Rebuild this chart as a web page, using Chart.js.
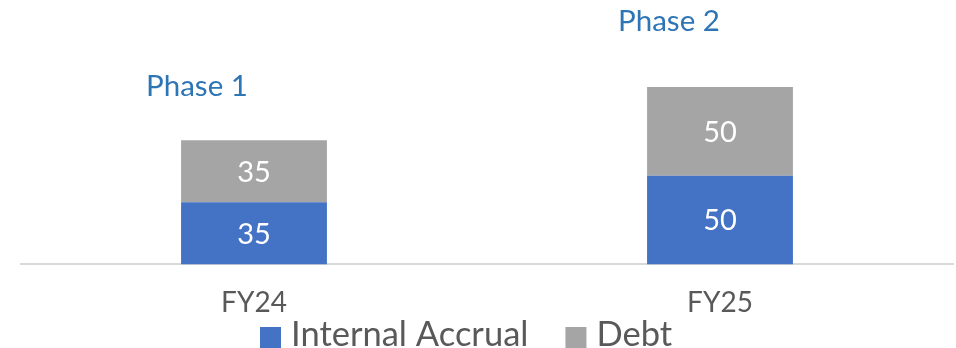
<!DOCTYPE html>
<html>
<head>
<meta charset="utf-8">
<script src="https://cdn.jsdelivr.net/npm/chart.js@4.4.1/dist/chart.umd.min.js"></script>
<style>
  html, body { margin: 0; padding: 0; background: #fff; overflow: hidden; }
  #wrap { width: 956px; height: 348px; }
</style>
</head>
<body>
<div id="wrap"><canvas id="fundingChart"></canvas></div>
<script>
'use strict';

const categories = ['FY24', 'FY25'];
const internalAccrual = [35, 50];
const debt = [35, 50];
const phaseLabels = ['Phase 1', 'Phase 2'];
const phaseLabelLevels = [100, 137]; // caption heights on the value axis

const FONT = 'Lato, "Open Sans", sans-serif';

// white value labels in the middle of every segment
const segmentLabels = {
    id: 'segmentLabels',
    afterDatasetsDraw(chart) {
        const ctx = chart.ctx;
        ctx.save();
        ctx.fillStyle = '#ffffff';
        ctx.font = '29px ' + FONT;
        ctx.textAlign = 'center';
        ctx.textBaseline = 'middle';
        chart.data.datasets.forEach((ds, di) => {
            chart.getDatasetMeta(di).data.forEach((bar, i) => {
                ctx.fillText(String(ds.data[i]), bar.x, (bar.y + bar.base) / 2 + 1);
            });
        });
        ctx.restore();
    }
};

// phase captions above the bars (text boxes sit a bit left of the bar centre)
const captionShift = [-57, -51];
const phaseCaptions = {
    id: 'phaseCaptions',
    afterDraw(chart) {
        const ctx = chart.ctx;
        const yScale = chart.scales.y;
        const bars = chart.getDatasetMeta(0).data;
        ctx.save();
        ctx.fillStyle = '#2E75B6';
        ctx.font = '29.5px ' + FONT;
        ctx.textAlign = 'center';
        ctx.textBaseline = 'middle';
        phaseLabels.forEach((txt, i) => {
            ctx.fillText(txt, bars[i].x + captionShift[i], yScale.getPixelForValue(phaseLabelLevels[i]));
        });
        ctx.restore();
    }
};

// legend drawn by hand so the spacing matches
const bottomLegend = {
    id: 'bottomLegend',
    afterDraw(chart) {
        const ctx = chart.ctx;
        ctx.save();
        ctx.font = '34.5px ' + FONT;
        ctx.textBaseline = 'alphabetic';
        let x = 260;
        const baseline = 346;
        chart.data.datasets.forEach(ds => {
            ctx.fillStyle = ds.backgroundColor;
            ctx.fillRect(x, 327, 21, 21);
            x += 31;
            ctx.fillStyle = '#595959';
            ctx.fillText(ds.label, x, baseline);
            x += ctx.measureText(ds.label).width + 37;
        });
        ctx.restore();
    }
};

const ctx = document.getElementById('fundingChart').getContext('2d');
new Chart(ctx, {
    type: 'bar',
    data: {
        labels: categories,
        datasets: [{
            label: 'Internal Accrual',
            data: internalAccrual,
            backgroundColor: '#4472C4'
        }, {
            label: 'Debt',
            data: debt,
            backgroundColor: '#A5A5A5'
        }]
    },
    options: {
        responsive: true,
        maintainAspectRatio: false,
        animation: false,
        layout: { padding: { left: 21, right: 3, top: 0, bottom: 14 } },
        datasets: {
            bar: { categoryPercentage: 1, barPercentage: 0.313 }
        },
        plugins: {
            legend: { display: false },
            tooltip: { enabled: false }
        },
        scales: {
            x: {
                stacked: true,
                grid: { display: false },
                border: { display: true, color: '#d9d9d9', width: 2 },
                ticks: {
                    color: '#595959',
                    font: { family: FONT, size: 28 },
                    padding: 14
                }
            },
            y: {
                stacked: true,
                display: false,
                min: 0,
                max: 149
            }
        }
    },
    plugins: [segmentLabels, phaseCaptions, bottomLegend]
});
</script>
</body>
</html>
